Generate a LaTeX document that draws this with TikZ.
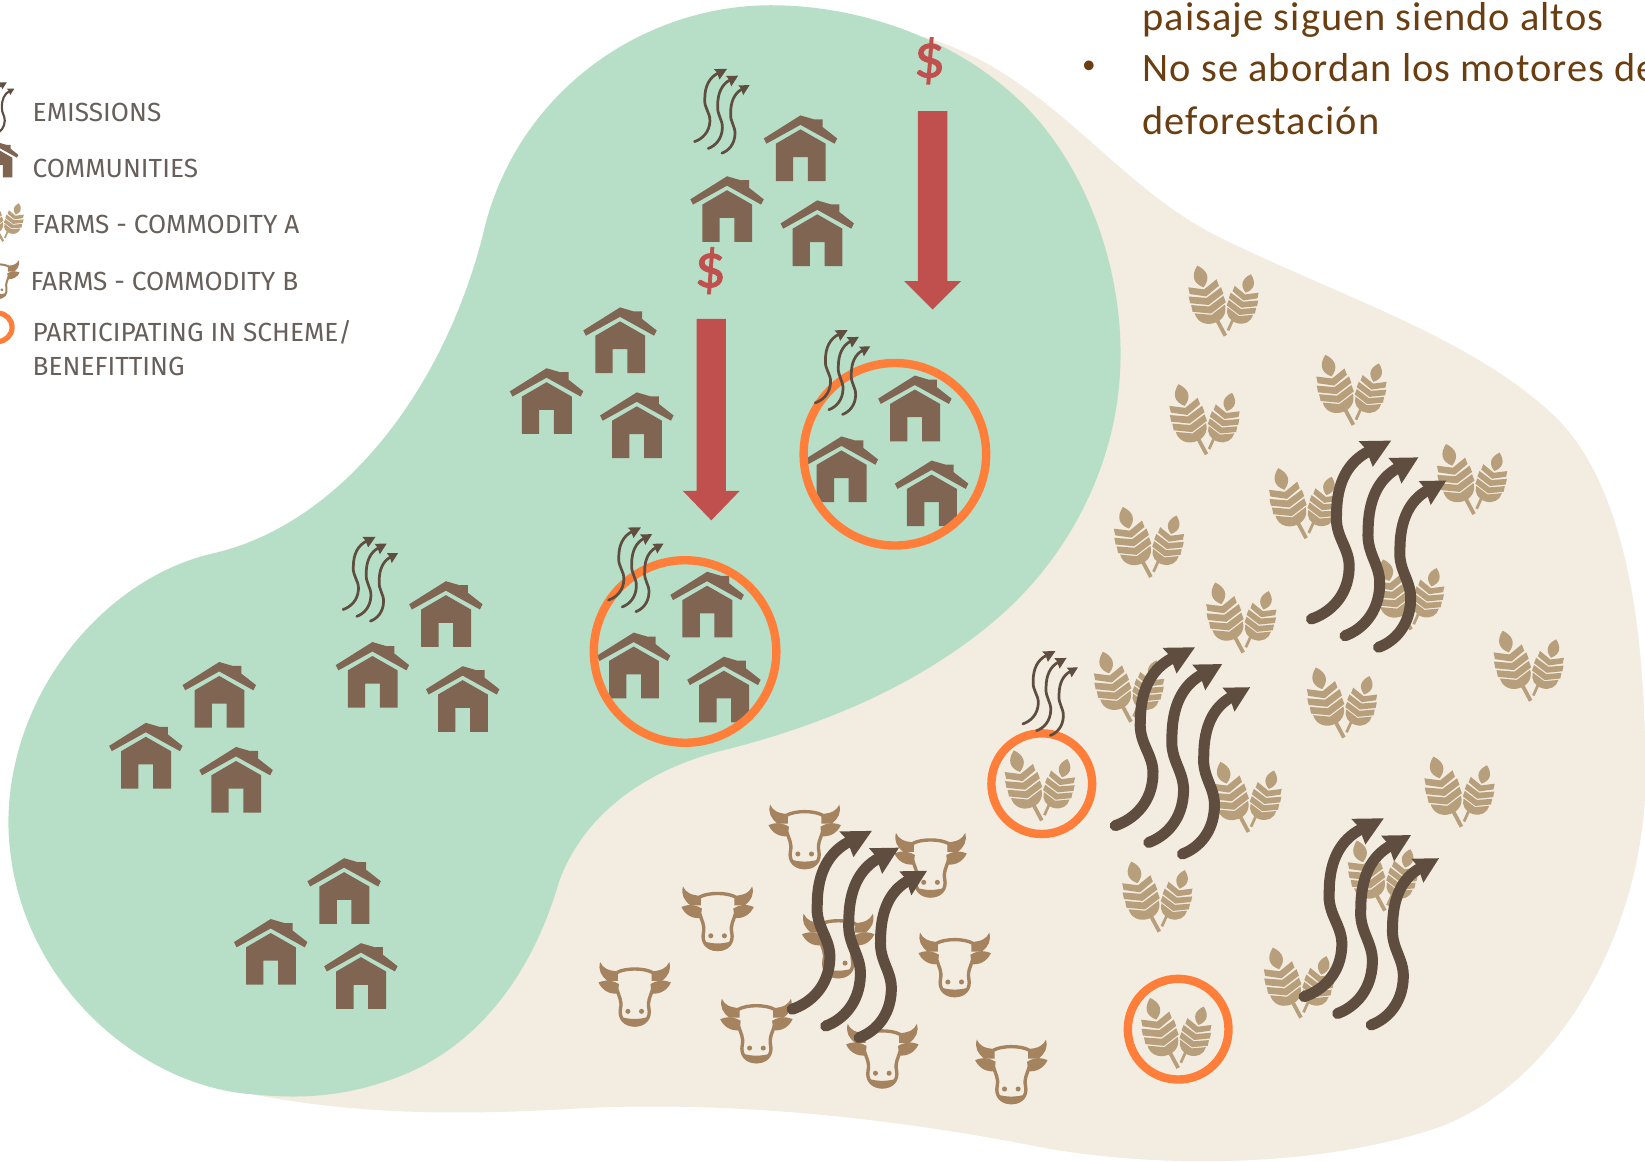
\documentclass[tikz,border=0pt]{standalone}
\usepackage{fontspec}
\setmainfont{Carlito}
\newfontfamily\legfont{Fira Sans}
\newfontfamily\bodyfont[LetterSpace=2.6]{Carlito}
\newfontfamily\dollarfont[FakeBold=1.2]{Carlito}
\definecolor{greenblob}{HTML}{B7DFC8}
\definecolor{beigeblob}{HTML}{F2ECE1}
\definecolor{housec}{HTML}{7F6552}
\definecolor{wheatc}{HTML}{B89F7C}
\definecolor{cowc}{HTML}{A5835F}
\definecolor{smokec}{HTML}{5F4E3F}
\definecolor{redc}{HTML}{C0504D}
\definecolor{orangec}{HTML}{FF7F3A}
\definecolor{legc}{HTML}{665F5A}
\definecolor{bodyc}{HTML}{6A3E10}
\tikzset{
  legtext/.style={anchor=west,inner sep=0pt,text=legc,font=\legfont\fontsize{25}{25}\selectfont},
  bodytext/.style={anchor=west,inner sep=0pt,text=bodyc,font=\bodyfont\fontsize{38.5}{38.5}\selectfont},
  bullettext/.style={inner sep=0pt,text=bodyc,font=\fontsize{26}{26}\selectfont},
  dollar/.style={inner sep=0pt,text=redc,font=\dollarfont\fontsize{60}{60}\selectfont},
  partbig/.style={draw=orangec,line width=8pt},
  redarrow/.style={fill=redc}
}
\newcommand\myhouse[3]{\begin{scope}[shift={(#1,#2)},scale=#3,housec]
 \fill (0,0) -- (13.7,4) -- (13.7,3.8) -- (21,3.8) -- (21,11) -- (35,22) -- (32.5,27) -- (0,9) -- (-32.5,27) -- (-35,22) -- cycle;
 \fill (0,13.3) -- (24,27) -- (24,62.6) -- (7,62.6) -- (7,39.7) -- (-7,39.7) -- (-7,62.6) -- (-23.5,62.6) -- (-23.5,27) -- cycle;
\end{scope}}
\newcommand\housegroup[2]{\myhouse{#1}{#2}{1}\myhouse{#1-70}{#2+58}{1}\myhouse{#1+16}{#2+81}{1}}
\newcommand\wheatear[4]{\begin{scope}[shift={(#1,#2)},rotate=#3,scale=#4,wheatc]
 \fill (0,0) .. controls (-9,0) and (-15,-6) .. (-15,-14) -- (0,-8.2) -- (15,-14) .. controls (15,-6) and (9,0) .. (0,0) -- cycle;
 \foreach \yy/\ww in {-16.5/16,-25/16,-33.5/14}{
  \fill (-\ww,\yy-6) -- (0,\yy) -- (\ww,\yy-6) -- (\ww+0.5,\yy+0.5) -- (0,\yy+7) -- (-\ww-0.5,\yy+0.5) -- cycle;
 }
 \fill (0,-35.5) .. controls (-9,-42) and (-8,-50) .. (0,-57) .. controls (8,-50) and (9,-42) .. (0,-35.5) -- cycle;
\end{scope}}
\newcommand\mywheat[3]{\begin{scope}[shift={(#1,#2)},scale=#3]
 \draw[wheatc,line width=3.6pt*#3] (0,0) -- (-8,-15);
 \draw[wheatc,line width=2.6pt*#3] (2.5,-5) -- (7,-15);
 \wheatear{-11}{-12}{16}{1}\wheatear{11}{-12}{-16}{0.85}
\end{scope}}
\newcommand\mycow[3]{\begin{scope}[shift={(#1,#2)},scale=#3,cowc]
 \draw[line width=3.2pt*#3,line join=round] (-17,10) .. controls (-9,5.5) and (9,5.5) .. (17,10);
 \draw[line width=3.2pt*#3,line join=round] (-17,26) .. controls (-15,33) and (-12,37) .. (-13.5,44) .. controls (-15.5,54) and (-9,60) .. (0,60) .. controls (9,60) and (15.5,54) .. (13.5,44) .. controls (12,37) and (15,33) .. (17,26);
 \fill (-14,52) .. controls (-5,55) and (5,55) .. (14,52) .. controls (12,59) and (6,61.5) .. (0,61.5) .. controls (-6,61.5) and (-12,59) .. (-14,52) -- cycle;
 \foreach \sg in {-1,1}{
  \fill (\sg*33,0) .. controls (\sg*30,6) and (\sg*26,8) .. (\sg*16,9) -- (\sg*16,18) -- (\sg*26,18) .. controls (\sg*32,13) and (\sg*35,8) .. (\sg*33,0) -- cycle;
  \fill (\sg*34.5,19.5) .. controls (\sg*26,16) and (\sg*20,18) .. (\sg*15,21) -- (\sg*16,30) .. controls (\sg*24,31) and (\sg*31,27) .. (\sg*34.5,19.5) -- cycle;
  \fill (\sg*6.5,47) circle[radius=2.4];
 }
\end{scope}}
\newcommand\squiggle[4]{\begin{scope}[shift={(#1,#2)},xscale=#3,yscale=#4]
 \draw[smokec,line cap=round,line width=\smokelw] (0,0) .. controls (18,-6) and (35,-22) .. (36,-48) .. controls (37,-68) and (22,-78) .. (24,-100) .. controls (24,-130) and (35,-150) .. (55,-160);
 \fill[smokec] (76,-170) -- (45,-169.5) -- (52,-162) -- (58.5,-145) -- cycle;
\end{scope}}
\newcommand\mysmoke[4]{\def\smokelw{#4}\begin{scope}[shift={(#1,#2)},scale=#3]
 \squiggle{0}{0}{1}{1}\squiggle{32}{16}{0.92}{1}\squiggle{64}{27}{0.85}{0.935}
\end{scope}}
\newcommand\dollararrow[4]{%
 \fill[redarrow] (#1-14,#2) -- (#1+14,#2) -- (#1+14,#3) -- (#1+27,#3) -- (#1,#4) -- (#1-27,#3) -- (#1-14,#3) -- cycle;}
\begin{document}
\begin{tikzpicture}[x=1pt,y=-1pt]
\useasboundingbox (0,0) rectangle (1568,1107.6);
\clip (0,0) rectangle (1568,1107.6);
\fill[white] (0,0) rectangle (1568,1107.6);
% blobs
\fill[beigeblob] (240,1043) .. controls (330,1060) and (420,1065) .. (560,1056) .. controls (700,1050) and (850,1065) .. (1000,1095) .. controls (1100,1112) and (1250,1115) .. (1370,1075) .. controls (1480,1035) and (1560,900) .. (1568,760) .. controls (1570,640) and (1560,470) .. (1480,395) .. controls (1400,320) and (1270,280) .. (1160,225) .. controls (1060,175) and (1000,70) .. (880,35) -- (700,300) -- (400,800) -- cycle;
\fill[greenblob] (735,5) .. controls (830,5) and (930,45) .. (990,115)
 .. controls (1045,180) and (1070,270) .. (1068,345)
 .. controls (1066,440) and (1020,530) .. (950,590)
 .. controls (880,650) and (790,690) .. (690,715)
 .. controls (610,735) and (555,780) .. (533,840)
 .. controls (510,920) and (460,1000) .. (370,1030)
 .. controls (320,1047) and (280,1047) .. (240,1043)
 .. controls (130,1035) and (10,930) .. (8,785)
 .. controls (8,660) and (100,550) .. (205,527)
 .. controls (320,500) and (420,380) .. (460,225)
 .. controls (490,90) and (610,5) .. (735,5) -- cycle;
% wheat
\foreach \wx/\wy in {1168/320,1150/433,1290/405,1405/490,1245/513,1097/550,1185/622,1345/600,1459/668,1281/703,1078/688,1190/793,1393/788,1105/888,1320/868,1240/970,993/782,1123/1018}{\mywheat{\wx}{\wy}{1}}
% cows
\foreach \cx/\cy in {767/767,887/794,684/845,799/871,910/889,605/917,721/952,841/976,964/991}{\mycow{\cx}{\cy}{1}}
% houses
\housegroup{763}{110}\housegroup{591}{293}\housegroup{872}{358}\housegroup{674}{545}\housegroup{425}{554}\housegroup{209}{631}\housegroup{328}{818}
% circles
\draw[partbig] (853,433) circle[radius=87];
\draw[partbig] (653,621) circle[radius=87];
\draw[partbig] (993,747) circle[radius=48];
\draw[partbig] (1123,981) circle[radius=48];
% emissions
\foreach \sx/\sy in {662/135,777/384,580/572,327/581,975/690}{\mysmoke{\sx}{\sy}{0.408}{2.6pt}}
\foreach \sx/\sy in {1250/590,1063/787,755/962,1243/950}{\mysmoke{\sx}{\sy}{1}{10.5pt}}
% red arrows
\dollararrow{889}{106}{268}{295}
\dollararrow{678}{304}{468}{496}
\node[dollar] (d1) at (886,58) {\$};
\node[dollar] (d2) at (677,258) {\$};
% legend
\mysmoke{-21}{120}{0.27}{2pt}
\myhouse{-1}{136}{0.53}
\mywheat{3}{230}{0.62}
\mycow{-2}{248}{0.6}
\draw[orangec,line width=5pt] (-2,312) circle[radius=13.5];
\node[legtext] (l1) at (31,107) {EMISSIONS};
\node[legtext] (l2) at (31,161) {COMMUNITIES};
\node[legtext] (l3) at (31,214) {FARMS - COMMODITY A};
\node[legtext] (l4) at (29,268) {FARMS - COMMODITY B};
\node[legtext] (l5) at (31,317) {PARTICIPATING IN SCHEME/};
\node[legtext] (l6) at (31,349) {BENEFITTING};
% body text
\node[bodytext] (t1) at (1089,19) {paisaje siguen siendo altos};
\node[bullettext] (tb) at (1038,64) {•};
\node[bodytext] (t2) at (1089,64) {No se abordan los motores de};
\node[bodytext] (t3) at (1089,115) {deforestación};
\end{tikzpicture}
\end{document}
